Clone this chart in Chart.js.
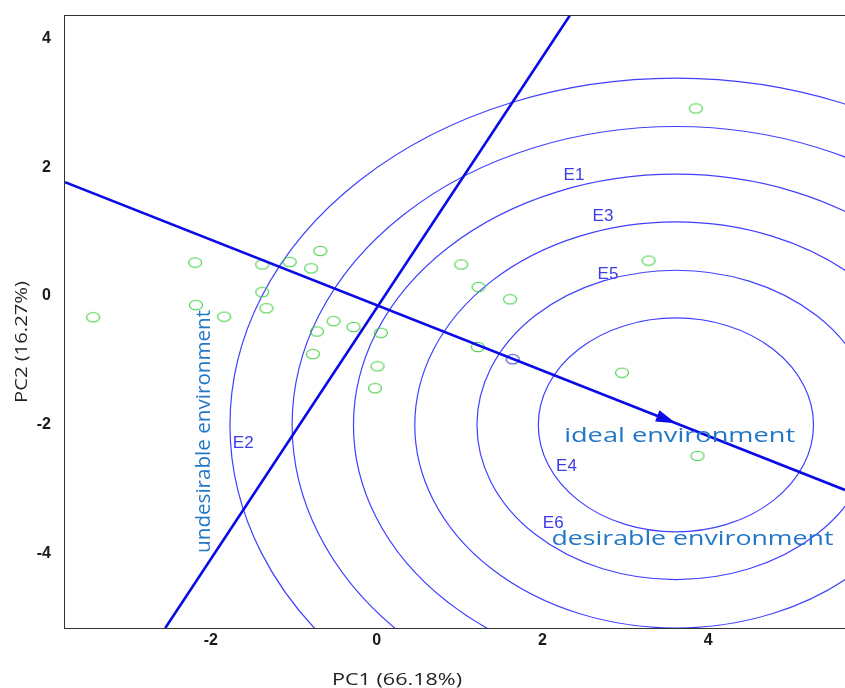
<!DOCTYPE html>
<html>
<head>
<meta charset="utf-8">
<script src="https://cdn.jsdelivr.net/npm/chart.js@4.4.1/dist/chart.umd.min.js"></script>
<style>
  html, body { margin: 0; padding: 0; background: #fff; }
  #wrap { width: 845px; height: 688px; position: relative; }
</style>
</head>
<body>
<div id="wrap"><canvas id="biplot"></canvas></div>
<script>
// axis setup
const xTicks = [-2, 0, 2, 4];
const yTicks = [-4, -2, 0, 2, 4];
const xRange = [-3.76, 5.65];
const yRange = [-5.15, 4.36];

// genotype scores (green open circles)
const genotypeX = [-3.42, -2.19, -2.18, -1.84, -1.38, -1.38, -1.33, -1.05, -0.79, -0.68,
  -0.52, -0.72, -0.28, 0.05, -0.77, 0.01, -0.02, 1.02, 1.23, 1.61, 1.22, 3.28, 3.85, 2.96, 3.87];
const genotypeY = [-0.33, 0.52, -0.14, -0.32, 0.49, 0.06, -0.19, 0.53, 0.43, 0.70,
  -0.39, -0.55, -0.48, -0.57, -0.90, -1.09, -1.43, 0.49, 0.14, -0.05, -0.79, 0.55, 2.91, -1.19, -2.48];

// the one blue open circle on the abscissa
const markedX = [1.64];
const markedY = [-0.98];

// average environment axis and its perpendicular
const abscissaX = [-3.76, 5.65];
const abscissaY = [1.767, -3.008];
const ordinateX = [-2.55, 2.334];
const ordinateY = [-5.15, 4.36];

// ideal environment and concentric rings
const idealPoint = [3.61, -2.0];
const ringRadii = [1.66, 2.40, 3.15, 3.89, 4.63, 5.38];

// environment labels
const envLabels = ["E1", "E2", "E3", "E4", "E5", "E6"];
const envLabelX = [2.38, -1.61, 2.73, 2.29, 2.79, 2.13];
const envLabelY = [1.88, -2.29, 1.23, -2.64, 0.34, -3.52];

// zone annotations
const zoneLabels = ["ideal environment", "desirable environment", "undesirable environment"];
const zoneLabelX = [3.655, 3.81, -2.08];
const zoneLabelY = [-2.17, -3.78, -2.10];
const zoneLabelW = [231, 282, 243];
const zoneLabelRot = [0, 0, -90];

const FONT = "'Liberation Sans', Arial, sans-serif";
const SOFT = "'Open Sans', 'Noto Sans', sans-serif";

function ellipseMarker(color) {
  const c = document.createElement("canvas");
  c.width = 16; c.height = 12;
  const g = c.getContext("2d");
  g.strokeStyle = color;
  g.lineWidth = 1.1;
  g.beginPath();
  g.ellipse(8, 6, 6.5, 4.8, 0, 0, Math.PI * 2);
  g.stroke();
  return c;
}

function fitText(ctx, text, x, y, font, color, width, rot) {
  ctx.save();
  ctx.font = font;
  ctx.fillStyle = color;
  ctx.textAlign = "center";
  ctx.textBaseline = "middle";
  ctx.translate(x, y);
  if (rot) ctx.rotate(rot * Math.PI / 180);
  if (width) {
    const w = ctx.measureText(text).width;
    ctx.scale(width / w, 1);
  }
  ctx.fillText(text, 0, 0);
  ctx.restore();
}

const toPts = (xs, ys) => xs.map((x, i) => ({ x: x, y: ys[i] }));

const biplotDecor = {
  id: "biplotDecor",
  beforeDatasetsDraw(chart) {
    const { ctx, chartArea: a, scales: { x, y } } = chart;
    ctx.save();
    ctx.beginPath();
    ctx.rect(a.left, a.top, a.right - a.left, a.bottom - a.top);
    ctx.clip();
    const cx = x.getPixelForValue(idealPoint[0]);
    const cy = y.getPixelForValue(idealPoint[1]);
    ctx.strokeStyle = "rgba(30, 30, 255, 0.85)";
    ctx.lineWidth = 1.2;
    ringRadii.forEach(r => {
      const rx = Math.abs(x.getPixelForValue(idealPoint[0] + r) - cx);
      const ry = Math.abs(y.getPixelForValue(idealPoint[1] + r) - cy);
      ctx.beginPath();
      ctx.ellipse(cx, cy, rx, ry, 0, 0, Math.PI * 2);
      ctx.stroke();
    });
    ctx.restore();
  },
  afterDatasetsDraw(chart) {
    const { ctx, chartArea: a, scales: { x, y } } = chart;

    // arrow head pointing at the ideal environment
    const x0 = x.getPixelForValue(abscissaX[0]), y0 = y.getPixelForValue(abscissaY[0]);
    const x1 = x.getPixelForValue(abscissaX[1]), y1 = y.getPixelForValue(abscissaY[1]);
    const ang = Math.atan2(y1 - y0, x1 - x0);
    const tx = x.getPixelForValue(idealPoint[0]);
    const ty = y0 + (tx - x0) * Math.tan(ang);
    ctx.save();
    ctx.translate(tx, ty);
    ctx.rotate(ang);
    ctx.fillStyle = "#0a0ae6";
    ctx.beginPath();
    ctx.moveTo(0, 0);
    ctx.lineTo(-20, -6);
    ctx.lineTo(-20, 6);
    ctx.closePath();
    ctx.fill();
    ctx.restore();

    envLabels.forEach((t, i) => {
      fitText(ctx, t, x.getPixelForValue(envLabelX[i]), y.getPixelForValue(envLabelY[i]),
        "17px " + FONT, "#3d3be8", 0, 0);
    });
    zoneLabels.forEach((t, i) => {
      fitText(ctx, t, x.getPixelForValue(zoneLabelX[i]), y.getPixelForValue(zoneLabelY[i]),
        "20px " + SOFT, "#2277c6", zoneLabelW[i], zoneLabelRot[i]);
    });

    // frame
    ctx.save();
    ctx.strokeStyle = "#333";
    ctx.lineWidth = 1;
    ctx.strokeRect(Math.round(a.left) - 0.5, Math.round(a.top) + 0.5,
      Math.round(a.right - a.left) + 2, Math.round(a.bottom - a.top));
    ctx.restore();

    // axis titles
    fitText(ctx, "PC1 (66.18%)", 397, 680, "16px " + SOFT, "#222", 130, 0);
    fitText(ctx, "PC2 (16.27%)", 22, 342, "16px " + SOFT, "#222", 122, -90);
  }
};

const ctx = document.getElementById("biplot").getContext("2d");
const biplot = new Chart(ctx, {
  type: "scatter",
  data: {
    datasets: [
      {
        label: "abscissa",
        data: toPts(abscissaX, abscissaY),
        showLine: true,
        borderColor: "#0a0ae6",
        borderWidth: 2.6,
        pointRadius: 0,
      },
      {
        label: "ordinate",
        data: toPts(ordinateX, ordinateY),
        showLine: true,
        borderColor: "#0a0ae6",
        borderWidth: 2.6,
        pointRadius: 0,
      },
      {
        label: "genotypes",
        data: toPts(genotypeX, genotypeY),
        pointStyle: ellipseMarker("#3fcf3f"),
        pointRadius: 6,
      },
      {
        label: "marked",
        data: toPts(markedX, markedY),
        pointStyle: ellipseMarker("#3b3bd6"),
        pointRadius: 6,
      },
    ],
  },
  options: {
    responsive: true,
    maintainAspectRatio: false,
    animation: false,
    layout: { autoPadding: false, padding: { top: 15, left: 0, right: 0, bottom: 0 } },
    plugins: {
      legend: { display: false },
      tooltip: { enabled: false },
    },
    scales: {
      x: {
        type: "linear",
        min: xRange[0],
        max: xRange[1],
        afterBuildTicks: (s) => { s.ticks = xTicks.map(v => ({ value: v })); },
        afterFit: (s) => {
          s.height = 60;
          s.paddingLeft = 0; s.paddingRight = 0;
        },
        grid: { display: false, drawTicks: false },
        border: { display: false },
        ticks: {
          padding: 3,
          maxRotation: 0,
          color: "#1a1a1a",
          font: { size: 16, weight: "bold", family: FONT },
        },
      },
      y: {
        type: "linear",
        min: yRange[0],
        max: yRange[1],
        afterBuildTicks: (s) => { s.ticks = yTicks.map(v => ({ value: v })); },
        afterFit: (s) => {
          s.width = 65;
          s.paddingTop = 0; s.paddingBottom = 0;
        },
        grid: { display: false, drawTicks: false },
        border: { display: false },
        ticks: {
          padding: 14,
          color: "#1a1a1a",
          font: { size: 16, weight: "bold", family: FONT },
        },
      },
    },
  },
  plugins: [biplotDecor],
});
</script>
</body>
</html>
